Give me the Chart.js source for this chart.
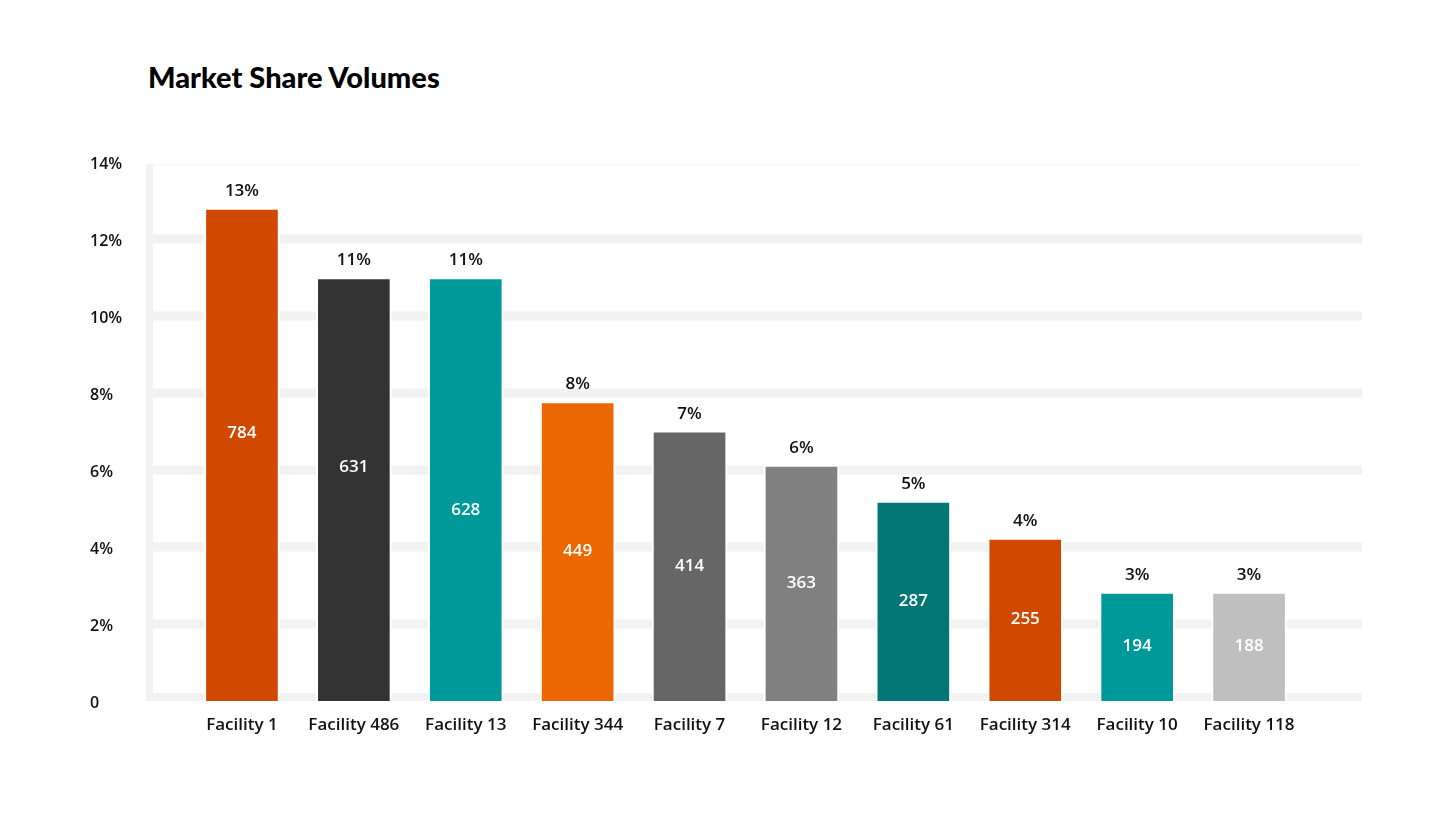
<!DOCTYPE html>
<html>
<head>
<meta charset="utf-8">
<script src="https://cdn.jsdelivr.net/npm/chart.js@4.4.0/dist/chart.umd.min.js"></script>
<style>
  html, body { margin: 0; padding: 0; background: #ffffff; }
  #wrap { position: relative; width: 1448px; height: 815px; }
  #title { position: absolute; left: 148px; top: 59px; font-family: "Lato", "Open Sans", sans-serif; font-weight: 900; font-size: 29px; color: #000; letter-spacing: 0px; }
  canvas { position: absolute; left: 0; top: 0; }
</style>
</head>
<body>
<div id="wrap">
  <div id="title">Market Share Volumes</div>
  <canvas id="c" width="1448" height="815"></canvas>
</div>
<script>
// ---- data ----
const categories = ["Facility 1", "Facility 486", "Facility 13", "Facility 344", "Facility 7", "Facility 12", "Facility 61", "Facility 314", "Facility 10", "Facility 118"];
const sharePercent = [12.8, 11.0, 11.0, 7.78, 7.02, 6.13, 5.19, 4.23, 2.83, 2.83];
const shareLabels = ["13%", "11%", "11%", "8%", "7%", "6%", "5%", "4%", "3%", "3%"];
const volumes = [784, 631, 628, 449, 414, 363, 287, 255, 194, 188];
const yTicks = [0, 2, 4, 6, 8, 10, 12, 14];

// ---- styles ----
const barColors = ["#cf4a00", "#333333", "#009999", "#ec6602", "#666666", "#808080", "#047676", "#cf4a00", "#009999", "#bfbfbf"];
const volumeLabelFraction = [0.544, 0.552, 0.45, 0.5, 0.5, 0.5, 0.5, 0.5, 0.5, 0.5];
const labelFont = '600 17px "Open Sans", "Noto Sans", sans-serif';

const bandsPlugin = {
  id: 'bands',
  beforeDatasetsDraw(chart) {
    const ctx = chart.ctx;
    const y = chart.scales.y;
    const left = 146, right = 1362;
    ctx.save();
    y.ticks.forEach(t => {
      const py = y.getPixelForValue(t.value);
      if (t.value === 14) {
        ctx.fillStyle = '#fafafa';
        ctx.fillRect(153, py + 2, right - 153, 2);
      } else if (t.value === 0) {
        ctx.fillStyle = '#f2f2f2';
        ctx.fillRect(left, py - 8, right - left, 8);
      } else {
        ctx.fillStyle = '#f2f2f2';
        ctx.fillRect(153, py - 4.5, right - 153, 9);
      }
    });
    const top = y.getPixelForValue(14) + 2;
    const bottom = y.getPixelForValue(0);
    ctx.fillStyle = '#f2f2f2';
    ctx.fillRect(left, top, 7, bottom - top);
    ctx.restore();
  }
};

const labelsPlugin = {
  id: 'barLabels',
  afterDatasetsDraw(chart) {
    const ctx = chart.ctx;
    const meta = chart.getDatasetMeta(0);
    ctx.save();
    ctx.font = labelFont;
    ctx.textAlign = 'center';
    ctx.textBaseline = 'middle';
    meta.data.forEach((bar, i) => {
      ctx.fillStyle = '#111111';
      ctx.fillText(shareLabels[i], bar.x, bar.y - 17);
      const h = bar.base - bar.y;
      ctx.fillStyle = '#ffffff';
      ctx.fillText(String(volumes[i]), bar.x, bar.base - h * volumeLabelFraction[i]);
    });
    ctx.restore();
  }
};

new Chart(document.getElementById('c'), {
  type: 'bar',
  data: {
    labels: categories,
    datasets: [{
      data: sharePercent,
      backgroundColor: barColors,
      borderColor: '#ffffff',
      borderWidth: 2,
      borderSkipped: 'start',
      barThickness: 75
    }]
  },
  options: {
    responsive: false,
    animation: false,
    devicePixelRatio: 1,
    layout: { padding: { left: 90, right: 143, top: 162, bottom: 0 } },
    plugins: {
      legend: { display: false },
      tooltip: { enabled: false },
      title: { display: false }
    },
    scales: {
      x: {
        grid: { display: false, drawTicks: false },
        border: { display: false },
        ticks: {
          color: '#111111',
          font: { family: '"Open Sans", "Noto Sans", sans-serif', size: 17, weight: '600' },
          padding: 14,
          maxRotation: 0,
          autoSkip: false
        },
        afterFit(axis) { axis.height = 114; }
      },
      y: {
        min: 0,
        max: 14,
        afterBuildTicks(axis) { axis.ticks = yTicks.map(v => ({ value: v })); },
        grid: { display: false, drawTicks: false },
        border: { display: false },
        ticks: {
          color: '#111111',
          font: { family: '"Open Sans", "Noto Sans", sans-serif', size: 16, weight: '600' },
          crossAlign: 'far',
          labelOffset: 2,
          callback: v => (v === 0 ? '0' : v + '%')
        },
        afterFit(axis) { axis.width = 96; }
      }
    }
  },
  plugins: [bandsPlugin, labelsPlugin]
});
</script>
</body>
</html>
